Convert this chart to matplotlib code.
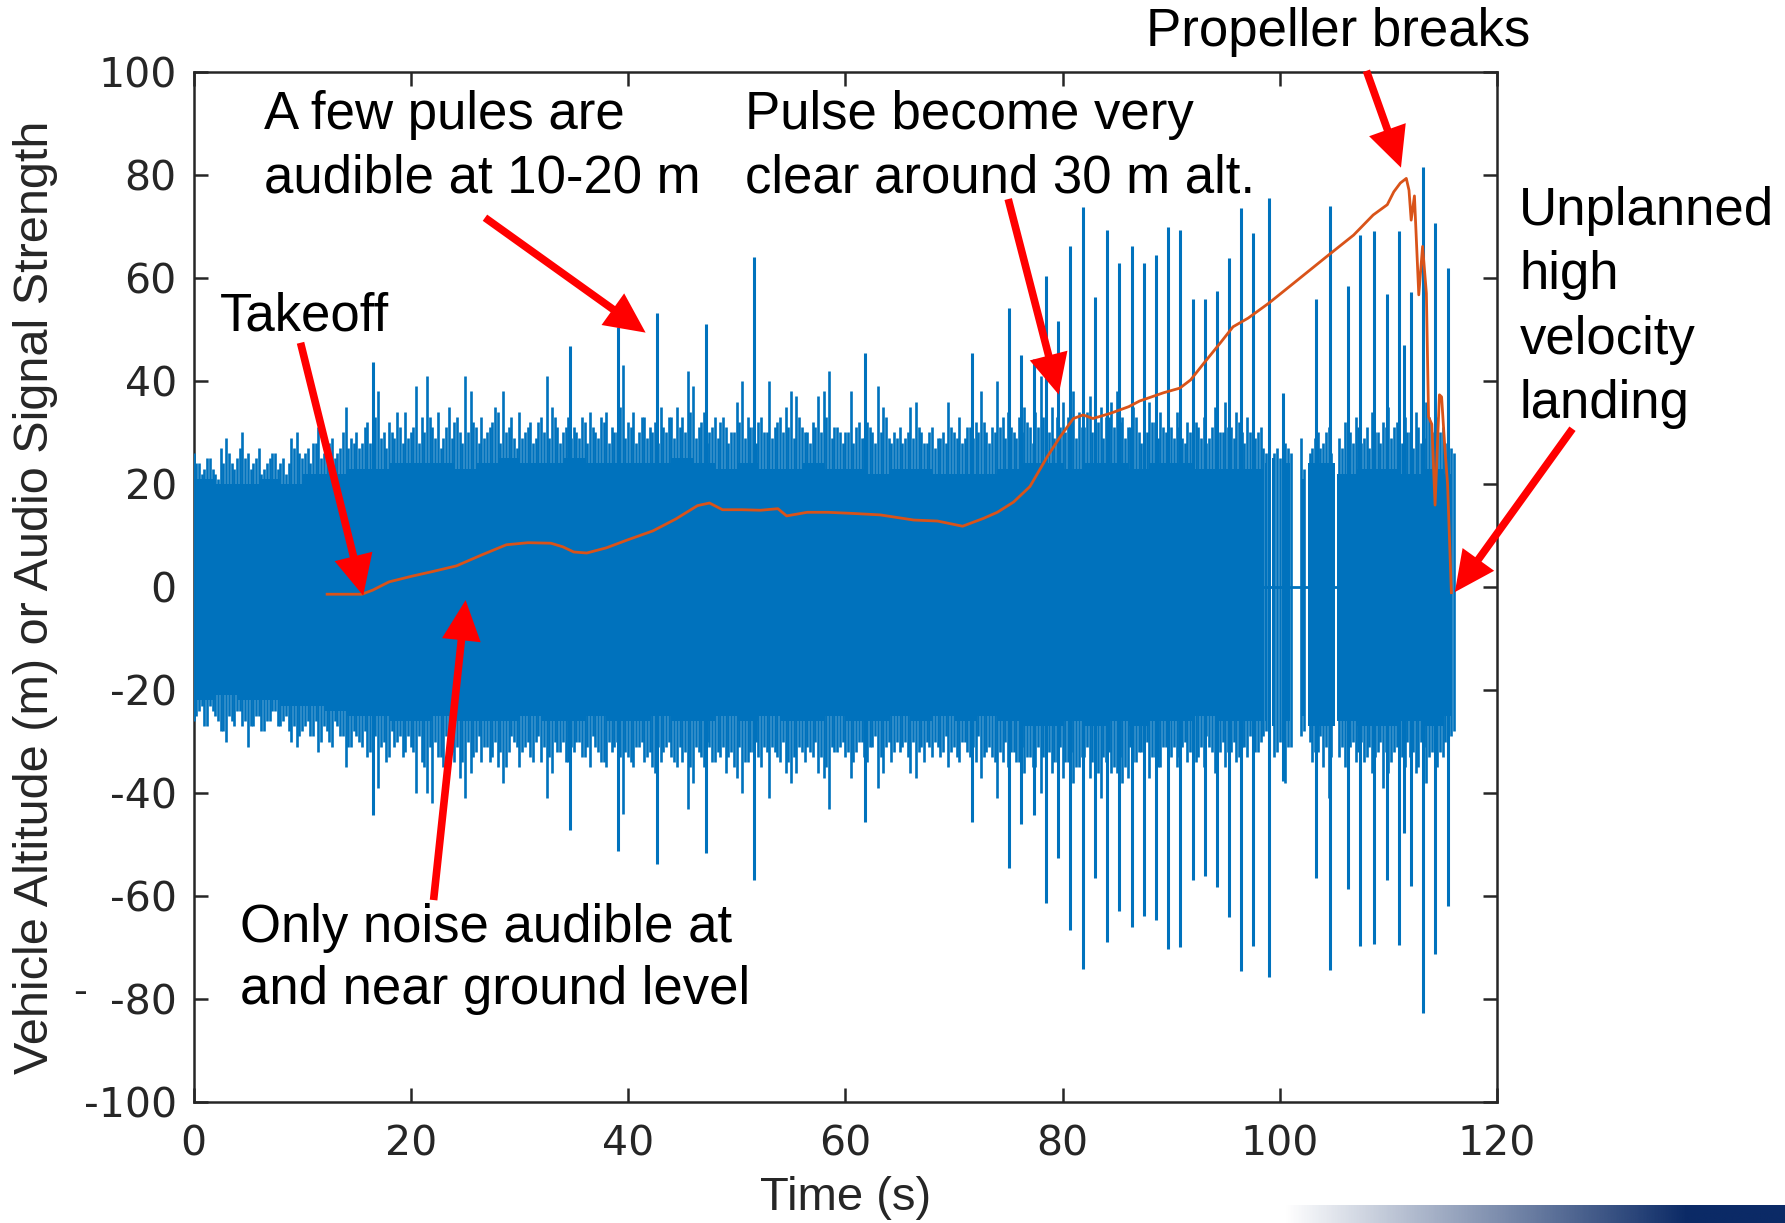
import numpy as np
import matplotlib
matplotlib.use("Agg")
import matplotlib.pyplot as plt

plt.rcParams['font.family'] = ['Liberation Sans', 'DejaVu Sans']
plt.rcParams['axes.unicode_minus'] = False

# ---------------- data ----------------
# audio signal: solid core band (two dense segments)
core_t1 = [0, 2, 4, 6, 8, 10, 12, 14, 16, 18, 20, 22, 24, 26, 28, 30, 32, 34, 36, 38,
           40, 42, 44, 46, 48, 50, 52, 54, 56, 58, 60, 62, 64, 66, 68, 70, 72, 74, 76, 78,
           80, 82, 84, 86, 88, 90, 92, 94, 96, 98.5]
core_hi1 = [21, 20, 20, 21, 20, 22, 22, 23, 23, 24, 24, 24, 23, 24, 25, 24, 24, 25, 24, 24,
            24, 24, 25, 24, 23, 24, 23, 23, 24, 23, 23, 22, 23, 23, 22, 22, 22, 23, 24, 24,
            23, 24, 24, 23, 24, 24, 23, 23, 23, 22]
core_lo1 = [-22, -21, -22, -22, -23, -23, -24, -25, -25, -26, -26, -25, -26, -26, -26, -25, -26, -26, -25, -26,
            -26, -25, -26, -26, -25, -26, -25, -26, -26, -25, -26, -26, -25, -26, -25, -26, -25, -26, -27, -27,
            -26, -27, -26, -27, -26, -26, -25, -26, -26, -25]
core_t2 = [105.3, 107, 109, 111, 113, 115, 115.9]
core_hi2 = [22, 23, 23, 22, 23, 22, 22]
core_lo2 = [-26, -27, -27, -26, -27, -25, -25]

# short bursts in the sparse part (98.5 - 105.3 s)
burst_t0 = [98.65, 99.0, 99.3, 99.75, 100.2, 100.6, 102.0, 102.6]
burst_t1 = [98.85, 99.15, 99.45, 99.85, 100.35, 100.9, 102.25, 105.1]
burst_hi = [24, 22, 25, 21, 23, 24, 21, 24]
burst_lo = [-26, -25, -27, -26, -25, -26, -25, -27]
gap_t = [98.5, 105.3]
gap_v = [0, 0]

# fringe peaks every 0.5 s (0 ... 116 s)
hair_hi = [26, 24, 23, 25, 22, 27, 29, 24, 25, 30,
           26, 24, 27, 23, 25, 26, 24, 22, 29, 30,
           25, 27, 28, 31, 26, 28, 25, 27, 35, 29,
           30, 28, 32, 36, 38, 30, 32, 29, 31, 34,
           30, 39, 33, 41, 31, 34, 29, 35, 32, 30,
           41, 38, 31, 33, 30, 32, 34, 38, 31, 29,
           34, 30, 32, 29, 33, 41, 35, 31, 30, 33,
           31, 29, 32, 34, 30, 33, 34, 31, 30, 43,
           32, 34, 30, 33, 31, 32, 35, 30, 33, 35,
           33, 42, 39, 31, 34, 30, 33, 32, 31, 30,
           36, 40, 33, 31, 32, 30, 40, 31, 33, 35,
           38, 37, 31, 30, 32, 37, 38, 42, 31, 30,
           30, 38, 31, 29, 32, 30, 39, 35, 29, 30,
           31, 29, 35, 36, 30, 28, 31, 29, 30, 36,
           30, 33, 29, 31, 32, 38, 30, 31, 40, 33,
           34, 30, 33, 35, 31, 34, 41, 32, 35, 33,
           36, 33, 38, 34, 31, 37, 41, 35, 33, 36,
           38, 33, 31, 35, 30, 33, 36, 32, 34, 30,
           31, 34, 29, 32, 30, 31, 33, 29, 35, 30,
           36, 31, 34, 30, 33, 32, 30, 27, 29, 26,
           25, 28, 26, 0, 29, 0, 27, 30, 28, 31,
           0, 29, 32, 30, 33, 28, 31, 34, 30, 32,
           35, 31, 29, 33, 30, 34, 28, 36, 30, 33,
           31, 29, 26]
hair_lo = [-26, -24, -27, -23, -25, -28, -30, -26, -24, -27,
           -31, -27, -25, -28, -26, -24, -27, -25, -30, -31,
           -28, -26, -29, -32, -27, -30, -26, -29, -35, -31,
           -29, -31, -33, -35, -39, -30, -33, -31, -29, -32,
           -31, -40, -34, -40, -42, -33, -35, -30, -34, -37,
           -41, -36, -32, -34, -31, -33, -35, -38, -32, -30,
           -35, -31, -33, -30, -34, -41, -36, -32, -30, -34,
           -32, -30, -33, -35, -31, -34, -35, -32, -30, -44,
           -33, -35, -31, -34, -32, -36, -34, -31, -33, -35,
           -34, -43, -38, -32, -35, -31, -34, -33, -36, -32,
           -37, -40, -34, -32, -33, -31, -41, -32, -34, -36,
           -38, -36, -32, -31, -33, -36, -37, -43, -32, -31,
           -33, -37, -32, -30, -34, -31, -39, -36, -30, -32,
           -32, -30, -36, -37, -31, -30, -33, -31, -32, -35,
           -31, -34, -30, -33, -34, -37, -32, -33, -41, -34,
           -35, -32, -34, -36, -33, -35, -40, -33, -36, -34,
           -37, -34, -38, -35, -33, -37, -36, -41, -34, -36,
           -36, -38, -37, -34, -32, -35, -37, -33, -35, -31,
           -33, -35, -31, -34, -32, -33, -35, -31, -36, -32,
           -35, -32, -34, -31, -33, -34, -32, -29, -31, -33,
           -30, -38, -31, 0, -29, 0, -34, -32, -35, -41,
           0, -33, -35, -31, -34, -30, -33, -36, -32, -39,
           -36, -32, -31, -35, -33, -36, -30, -38, -32, -35,
           -33, -31, -28]
hair_t = np.arange(len(hair_hi)) * 0.5

# second, denser row of fringe peaks (0.25 s, 0.75 s, ...)
hair2_hi = [24, 22, 25, 23, 21, 24, 26, 23, 27, 25,
            23, 25, 22, 24, 26, 23, 25, 24, 27, 26,
            26, 24, 28, 25, 27, 29, 26, 30, 27, 28,
            27, 31, 28, 33, 29, 27, 30, 34, 28, 29,
            31, 28, 30, 33, 29, 27, 31, 29, 33, 28,
            30, 32, 28, 29, 31, 35, 28, 30, 33, 27,
            29, 31, 28, 32, 30, 29, 33, 28, 31, 29,
            30, 33, 28, 31, 29, 32, 28, 30, 35, 29,
            31, 28, 33, 29, 30, 28, 31, 33, 29, 31,
            30, 34, 29, 32, 28, 31, 29, 33, 28, 30,
            32, 29, 31, 28, 33, 30, 29, 32, 30, 31,
            29, 33, 30, 28, 31, 30, 33, 29, 31, 28,
            30, 28, 32, 29, 31, 28, 30, 33, 28, 29,
            28, 30, 29, 31, 28, 30, 27, 29, 28, 31,
            29, 28, 31, 29, 30, 32, 28, 30, 31, 29,
            31, 29, 30, 32, 28, 31, 33, 30, 29, 31,
            30, 33, 29, 31, 34, 30, 32, 29, 33, 31,
            32, 29, 31, 33, 28, 30, 32, 29, 31, 28,
            29, 31, 28, 30, 32, 29, 28, 31, 29, 30,
            31, 29, 32, 28, 30, 29, 31, 26, 0, 27,
            0, 27, 0, 0, 23, 26, 29, 27, 30, 26,
            0, 27, 30, 28, 31, 29, 27, 30, 28, 31,
            29, 32, 28, 30, 27, 31, 29, 33, 28, 30,
            28, 27]
hair2_lo = [-25, -23, -27, -24, -26, -28, -25, -27, -24, -26,
            -27, -25, -28, -26, -24, -27, -26, -28, -27, -29,
            -27, -29, -26, -30, -28, -31, -27, -29, -31, -28,
            -30, -28, -32, -29, -31, -34, -28, -30, -33, -29,
            -32, -29, -35, -31, -30, -33, -29, -32, -31, -34,
            -30, -33, -29, -31, -34, -30, -32, -35, -29, -31,
            -32, -30, -34, -29, -31, -33, -30, -32, -34, -31,
            -30, -33, -31, -29, -32, -34, -30, -31, -33, -32,
            -34, -31, -30, -33, -35, -31, -32, -30, -34, -31,
            -32, -35, -31, -33, -30, -34, -32, -31, -33, -35,
            -31, -34, -32, -30, -35, -32, -31, -33, -30, -34,
            -33, -31, -34, -32, -30, -33, -35, -31, -32, -30,
            -32, -34, -30, -33, -31, -29, -33, -31, -34, -30,
            -31, -33, -30, -32, -34, -31, -30, -33, -29, -32,
            -33, -30, -32, -31, -29, -33, -31, -34, -32, -30,
            -32, -34, -31, -33, -35, -31, -33, -32, -34, -31,
            -34, -32, -35, -33, -31, -34, -36, -33, -32, -35,
            -33, -35, -31, -34, -32, -30, -33, -35, -31, -32,
            -31, -33, -30, -32, -34, -31, -29, -32, -33, -30,
            -32, -30, -33, -31, -29, -32, -30, -28, 0, -32,
            0, -31, 0, 0, -28, -30, -32, -29, -31, -33,
            0, -31, -33, -30, -32, -34, -31, -33, -30, -32,
            -34, -31, -33, -30, -32, -35, -31, -33, -30, -32,
            -30, -29]
hair2_t = np.arange(len(hair2_hi)) * 0.5 + 0.25

# prominent pulses
spike_t = [16.5, 34.7, 39.1, 42.7, 47.2, 51.6, 61.8, 71.7, 75.1, 76.2, 77.4, 78.5, 79.6,
           80.7, 81.9, 83.0, 84.1, 85.2, 86.4, 87.5, 88.6, 89.7, 90.8, 92.0, 93.1, 94.2,
           95.3, 96.4, 97.5, 99.0, 100.3, 103.3, 104.6, 106.3, 107.4, 108.7, 109.9, 111.0,
           111.4, 112.1, 113.2, 114.3, 115.5]
spike_hi = [43.7, 46.8, 50.5, 53.1, 51.0, 64.1, 45.4, 45.4, 54.2, 45.1, 44.2, 60.4, 51.7,
            66.1, 73.7, 56.2, 69.2, 62.8, 66.1, 62.8, 64.4, 69.8, 69.3, 55.8, 55.8, 57.5,
            63.8, 73.5, 68.7, 75.5, 37.6, 55.8, 74.0, 58.4, 68.3, 69.0, 56.9, 69.1,
            47.0, 57.3, 81.5, 70.7, 61.9]
spike_lo = [-44.3, -47.2, -51.2, -53.7, -51.7, -56.8, -45.7, -45.7, -54.6, -45.9, -44.2, -61.4, -52.5,
            -66.6, -74.1, -56.4, -68.9, -62.8, -66.0, -63.9, -64.7, -70.2, -69.8, -56.8, -56.1, -58.3,
            -64.0, -74.5, -69.6, -75.7, -37.6, -56.4, -74.3, -58.6, -69.6, -69.3, -56.8, -69.5,
            -47.8, -58.1, -82.7, -71.2, -62.0]

# vehicle altitude
alt_t = [12.3, 15.5, 16.5, 18.0, 20.1, 22.0, 24.2, 26.5, 28.8, 30.8, 32.9, 34.0, 35.0, 36.2,
         38.0, 39.9, 42.3, 44.4, 46.4, 47.5, 48.7, 50.5, 52.2, 53.8, 54.6, 56.5, 58.4, 60.5,
         63.2, 66.3, 68.5, 70.8, 72.7, 74.0, 75.5, 77.0, 78.6, 79.8, 81.0, 81.9, 82.8, 84.4,
         86.1, 87.1, 89.3, 90.8, 91.8, 93.0, 94.5, 95.7, 97.1, 99.0, 101.3, 104.3, 106.8,
         108.6, 109.9, 110.5, 111.1, 111.65, 111.9, 112.1, 112.4, 112.8, 113.15, 113.5,
         113.7, 114.0, 114.3, 114.7, 114.9, 115.2, 115.45, 115.8]
alt_v = [-1.4, -1.4, -0.6, 1.0, 2.1, 3.0, 4.1, 6.2, 8.2, 8.6, 8.5, 7.8, 6.8, 6.6,
         7.6, 9.1, 10.9, 13.2, 15.8, 16.3, 15.0, 15.0, 14.9, 15.2, 13.8, 14.5, 14.5, 14.3,
         14.0, 13.0, 12.8, 11.8, 13.3, 14.5, 16.5, 19.5, 25.3, 29.2, 32.7, 33.4, 32.7, 33.7,
         35.0, 36.1, 37.7, 38.6, 40.2, 43.4, 47.3, 50.5, 52.2, 55.1, 59.0, 64.1, 68.3,
         72.2, 74.2, 76.7, 78.4, 79.3, 77.0, 71.2, 75.9, 56.7, 66.1, 57.0,
         33.0, 31.6, 15.9, 37.3, 36.9, 27.0, 20.0, -1.1]

x_ticks = [0, 20, 40, 60, 80, 100, 120]
y_ticks = [-100, -80, -60, -40, -20, 0, 20, 40, 60, 80, 100]

# annotations: (text lines, x, baselines) and arrows (tail -> tip)
notes = [
    (["A few pules are", "audible at 10-20 m"], 6.5, [88.9, 76.6]),
    (["Pulse become very", "clear around 30 m alt."], 50.8, [88.9, 76.6]),
    (["Propeller breaks"], 87.7, [104.9]),
    (["Unplanned", "high", "velocity", "landing"], 122.06, [70.2, 57.8, 45.2, 32.8]),
    (["Takeoff"], 2.4, [49.8]),
    (["Only noise audible at", "and near ground level"], 4.3, [-68.8, -81.0]),
]
arrows = [
    ((9.85, 47.4), (15.62, -1.66)),
    ((26.83, 71.67), (41.62, 49.37)),
    ((22.10, -60.75), (25.05, -2.54)),
    ((75.00, 75.29), (79.65, 37.35)),
    ((107.98, 100.18), (111.16, 81.39)),
    ((126.95, 30.72), (116.12, -0.99)),
]

BLUE = '#0072BD'
ORANGE = '#D95319'
DARK = '#262626'

# ---------------- figure ----------------
fig = plt.figure(figsize=(17.85, 12.23), dpi=100)
ax = fig.add_axes([0.10842, 0.09870, 0.73023, 0.84264])

ax.fill_between(core_t1, core_lo1, core_hi1, step='post', color=BLUE, lw=0, zorder=2)
ax.fill_between(core_t2, core_lo2, core_hi2, step='post', color=BLUE, lw=0, zorder=2)
ax.bar(burst_t0, np.subtract(burst_hi, burst_lo), width=np.subtract(burst_t1, burst_t0),
       bottom=burst_lo, align='edge', color=BLUE, lw=0, zorder=2)
ax.plot(gap_t, gap_v, color=BLUE, lw=2, zorder=2)

for tt, hi, lo in ((hair_t, hair_hi, hair_lo), (hair2_t, hair2_hi, hair2_lo)):
    hh = np.array(hi, float)
    hl = np.array(lo, float)
    m = (hh != 0) | (hl != 0)
    ax.vlines(tt[m], hl[m], hh[m], color=BLUE, lw=1.9, zorder=3)
ax.vlines(spike_t, spike_lo, spike_hi, color=BLUE, lw=2.2, zorder=3)

ax.plot(alt_t, alt_v, color=ORANGE, lw=2.0, zorder=4)

ax.set_xlim(0, 120)
ax.set_ylim(-100, 100)
ax.set_xticks(x_ticks)
ax.set_yticks(y_ticks)
ax.set_xticklabels([str(v) for v in x_ticks])
ax.set_yticklabels([str(v) for v in y_ticks])
ax.tick_params(direction='in', length=10, width=1.8, colors=DARK, labelsize=29.5,
               top=True, right=True)
ax.tick_params(axis='x', pad=16)
ax.tick_params(axis='y', pad=12)
for lab in ax.get_xticklabels() + ax.get_yticklabels():
    lab.set_family('DejaVu Sans')
for sp in ax.spines.values():
    sp.set_linewidth(1.8)
    sp.set_color(DARK)

fig.text(0.0198, 0.512, 'Vehicle Altitude (m) or Audio Signal Strength', rotation=90,
         ha='center', va='center', fontsize=35, color=DARK)
fig.text(0.4735, 0.0106, 'Time (s)', ha='center', va='baseline', fontsize=34, color=DARK)
fig.text(0.0448, 0.1883, '-', ha='center', va='center', fontsize=30, color=DARK)

for lines, x, ys in notes:
    for s, y in zip(lines, ys):
        ax.text(x, y, s, ha='left', va='baseline', fontsize=38, color='black',
                clip_on=False, zorder=6)

for tail, tip in arrows:
    ax.annotate('', xy=tip, xytext=tail, annotation_clip=False, zorder=5,
                arrowprops=dict(arrowstyle='simple,head_length=2.9,head_width=2.8,tail_width=0.55',
                                mutation_scale=10, color='#FF0000', lw=0,
                                shrinkA=0, shrinkB=0))

# gradient strip at the bottom right
gax = fig.add_axes([0.7193, 0.0, 0.2807, 0.0151])
grad = np.zeros((1, 256, 4))
navy = matplotlib.colors.to_rgb('#0b2a66')
grad[..., 0] = navy[0]
grad[..., 1] = navy[1]
grad[..., 2] = navy[2]
grad[0, :, 3] = np.clip(np.linspace(0, 1.25, 256), 0, 1)
gax.imshow(grad, aspect='auto', extent=(0, 1, 0, 1))
gax.set_axis_off()

fig.savefig('out.png', dpi=100)
